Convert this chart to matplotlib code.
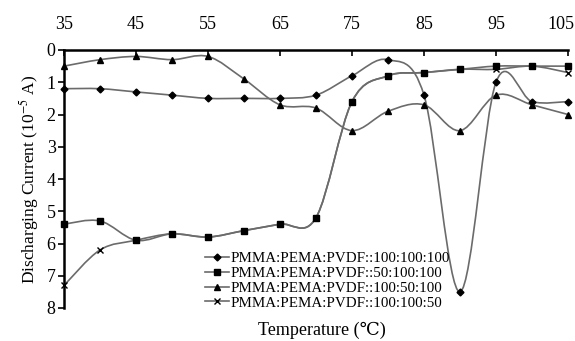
import matplotlib.pyplot as plt
from matplotlib.path import Path
from matplotlib.patches import PathPatch
from matplotlib.lines import Line2D
from matplotlib.transforms import ScaledTranslation

plt.rcParams['font.family'] = ['Liberation Serif', 'DejaVu Serif']
plt.rcParams['mathtext.fontset'] = 'stix'

temperature = [35, 40, 45, 50, 55, 60, 65, 70, 75, 80, 85, 90, 95, 100, 105]
s_100_100_100 = [1.2, 1.2, 1.3, 1.4, 1.5, 1.5, 1.5, 1.4, 0.8, 0.3, 1.4, 7.5, 1.0, 1.6, 1.6]
s_50_100_100 = [5.4, 5.3, 5.9, 5.7, 5.8, 5.6, 5.4, 5.2, 1.6, 0.8, 0.7, 0.6, 0.5, 0.5, 0.5]
s_100_50_100 = [0.5, 0.3, 0.2, 0.3, 0.2, 0.9, 1.7, 1.8, 2.5, 1.9, 1.7, 2.5, 1.4, 1.7, 2.0]
s_100_100_50 = [7.3, 6.2, 5.9, 5.7, 5.8, 5.6, 5.4, 5.2, 1.6, 0.8, 0.7, 0.6, 0.6, 0.5, 0.7]

labels = ['PMMA:PEMA:PVDF::100:100:100', 'PMMA:PEMA:PVDF::50:100:100',
          'PMMA:PEMA:PVDF::100:50:100', 'PMMA:PEMA:PVDF::100:100:50']
markers = ['D', 's', '^', 'x']
msizes = [3.5, 4.5, 5, 5]
xticks = [35, 45, 55, 65, 75, 85, 95, 105]
yticks = [0, 1, 2, 3, 4, 5, 6, 7, 8]

line_color = '#6b6b6b'


def smooth_path(xs, ys):
    # bezier segments like excel "smoothed line"
    n = len(xs)
    verts = [(xs[0], ys[0])]
    codes = [Path.MOVETO]
    for i in range(n - 1):
        x0, y0 = xs[max(i - 1, 0)], ys[max(i - 1, 0)]
        x1, y1 = xs[i], ys[i]
        x2, y2 = xs[i + 1], ys[i + 1]
        x3, y3 = xs[min(i + 2, n - 1)], ys[min(i + 2, n - 1)]
        c1 = (x1 + (x2 - x0) / 6, y1 + (y2 - y0) / 6)
        c2 = (x2 - (x3 - x1) / 6, y2 - (y3 - y1) / 6)
        verts += [c1, c2, (x2, y2)]
        codes += [Path.CURVE4] * 3
    return Path(verts, codes)


fig = plt.figure(figsize=(5.75, 3.41), dpi=100)
ax = fig.add_axes([64 / 575, 1 - 308 / 341, 504 / 575, 258 / 341])

series = [s_100_100_100, s_50_100_100, s_100_50_100, s_100_100_50]
handles = []
for vals, lab, m, ms in zip(series, labels, markers, msizes):
    ax.add_patch(PathPatch(smooth_path(temperature, vals), facecolor='none',
                           edgecolor=line_color, lw=1.2, zorder=2))
    ax.plot(temperature, vals, ls='none', marker=m, ms=ms, color='black',
            mew=1.0, zorder=3, clip_on=False)
    handles.append(Line2D([], [], color=line_color, lw=1.2, marker=m, ms=ms,
                          markerfacecolor='black', markeredgecolor='black', label=lab))

ax.set_xlim(35, 105)
ax.set_ylim(8, 0)
ax.set_xticks(xticks)
ax.set_yticks(yticks)
ax.xaxis.tick_top()
ax.tick_params(axis='x', direction='in', length=4, width=1.2, labelsize=13, pad=12)
ax.tick_params(axis='y', direction='out', length=4, width=1.2, labelsize=13, pad=2)
ax.spines['right'].set_visible(False)
ax.spines['bottom'].set_visible(False)
ax.spines['top'].set_linewidth(1.8)
ax.spines['left'].set_linewidth(1.8)

# last top label sits a little left so it stays inside the picture
fig.canvas.draw()
last = ax.get_xticklabels(which='major')[-1]
last.set_transform(last.get_transform() + ScaledTranslation(-7 / 100, 0, fig.dpi_scale_trans))

ax.set_ylabel('Discharging Current (10$^{-5}$ A)', fontsize=12.5, labelpad=4)
fig.text(322 / 575, 1 - 330 / 341, 'Temperature (℃)', fontsize=13, ha='center', va='center')

ax.legend(handles=handles, loc='upper left', bbox_to_anchor=(141 / 504, 1 - 202 / 258),
          frameon=False, fontsize=10.8, handlelength=1.6, handletextpad=0.1,
          labelspacing=0.08, borderaxespad=0, borderpad=0)

fig.savefig('out.png', dpi=100)
